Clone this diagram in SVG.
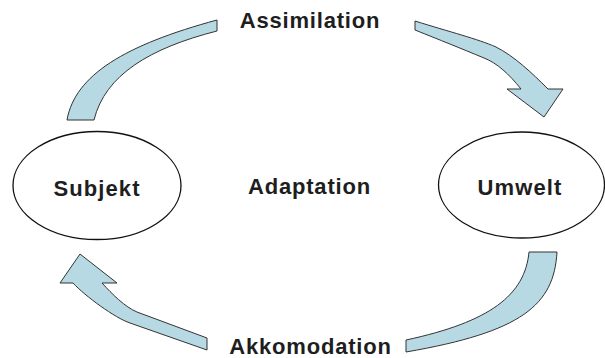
<svg xmlns="http://www.w3.org/2000/svg" width="605" height="358" viewBox="0 0 605 358">
<style>
.arrow{fill:#b7d9e4;stroke:#333;stroke-width:1;stroke-linejoin:miter}
.node{fill:#fff;stroke:#111;stroke-width:1.3}
.lbl{font-family:"Liberation Sans",Arial,sans-serif;font-weight:bold;font-size:22px;fill:#1e1e1e;text-anchor:middle;letter-spacing:0.8px}
</style>
<rect width="605" height="358" fill="#fff"/>
<g id="connectors">
<path id="assimilation-top-left" class="arrow" d="M67,120 C75,75 125,45 217,20 L217,31 C150,48 105,75 94,120 Z"/>
<path id="assimilation-top-right" class="arrow" d="M415,21 C450,32 478,39 496,47 C514,56 532,73 548,89 L563,89 L544,117 L507,89 L521,89 C509,74 497,63 484,58 C460,48 440,40 415,30 Z"/>
<path id="akkomodation-bottom-right" class="arrow" d="M529,252 L557,252 C554,305 522,332 406,352 L406,340 C490,322 525,295 529,252 Z"/>
<path id="akkomodation-bottom-left" class="arrow" d="M80,254 L117,283 L102,283 C112,294 125,307 137,312 L207,338 L207,350 L130,323 C115,318 85,296 73,283 L60,283 Z"/>
</g>
<g id="subjekt">
<ellipse class="node" cx="97" cy="185.5" rx="84" ry="54"/>
<text class="lbl" x="97" y="196" style="letter-spacing:1.1px">Subjekt</text>
</g>
<g id="umwelt">
<ellipse class="node" cx="521.5" cy="185" rx="83" ry="53"/>
<text class="lbl" x="520" y="195" style="letter-spacing:1.1px">Umwelt</text>
</g>
<g id="assimilation">
<text class="lbl" x="310" y="28">Assimilation</text>
</g>
<g id="adaptation">
<text class="lbl" x="309.5" y="194">Adaptation</text>
</g>
<g id="akkomodation">
<text class="lbl" x="310.5" y="353.5">Akkomodation</text>
</g>
</svg>
